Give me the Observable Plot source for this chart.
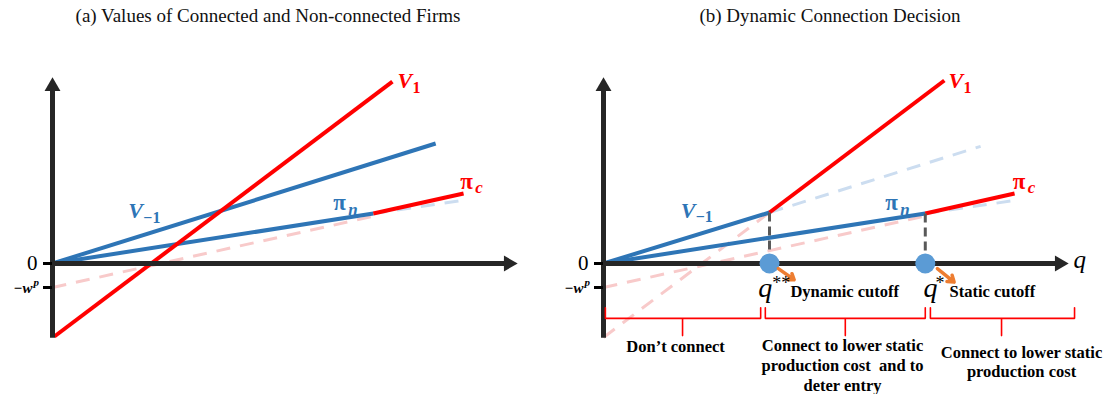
<!DOCTYPE html>
<html>
<head>
<meta charset="utf-8">
<script src="https://cdn.jsdelivr.net/npm/d3@7"></script>
<script src="https://cdn.jsdelivr.net/npm/@observablehq/plot@0.6"></script>
<style>
  body { margin: 0; background: #fff; }
  #wrap { position: relative; width: 1109px; height: 394px; overflow: hidden; background: #fff; }
  .title { position: absolute; top: 5px; text-align: center; font-family: "Liberation Serif", serif; font-size: 19px; color: #111; white-space: nowrap; }
  .panel { position: absolute; top: 0; }
</style>
</head>
<body>
<div id="wrap">
  <div class="title" style="left:0;width:536px">(a) Values of Connected and Non-connected Firms</div>
  <div class="title" style="left:551px;width:558px">(b) Dynamic Connection Decision</div>
  <div class="panel" id="pa" style="left:0"></div>
  <div class="panel" id="pb" style="left:551px"></div>
</div>
<script>
// ---------- data (q = size, v = value) ----------
const qMax = 100;            // end of the q axis
const vTop = 40;             // end of the value axis
const vBottom = -16.1;       // bottom of the value axis
const wp = 5.16;             // fixed cost w^p
const yTicks = [0, -wp];

// panel (a)
const aV1 = [{q: 0.4, v: -15.7}, {q: 73.1, v: 39.1}];
const aVm1 = [{q: 0, v: 0}, {q: 82.4, v: 25.8}];
const aPiN = [{q: 0, v: 0}, {q: 69.0, v: 10.75}];
const aPiC = [{q: 69.0, v: 10.75}, {q: 88.4, v: 15.05}];
const aPiCDash = [{q: 0, v: -wp}, {q: 69.0, v: 10.15}];
const aPiNDash = [{q: 69.0, v: 10.75}, {q: 88.4, v: 13.6}];
const aLabels = [
  {q: 74.2, v: 39.25, main: "V", sub: "1", series: "connected"},
  {q: 16.3, v: 11.3, main: "V", sub: "\u22121", series: "non"},
  {q: 60.4, v: 13.0, main: "\u03c0", sub: "n", series: "non"},
  {q: 87.7, v: 17.7, main: "\u03c0", sub: "c", series: "connected"}
];

// panel (b)
const bVm1 = [{q: 0, v: 0}, {q: 35.7, v: 10.97}];
const bV1 = [{q: 35.7, v: 10.97}, {q: 73.3, v: 39.35}];
const bPiN = [{q: 0, v: 0}, {q: 69.2, v: 10.75}];
const bPiC = [{q: 69.2, v: 10.75}, {q: 88.4, v: 15.05}];
const bVm1Dash = [{q: 35.7, v: 10.97}, {q: 81.1, v: 25.2}];
const bPiNDash = [{q: 69.2, v: 10.75}, {q: 88.4, v: 13.55}];
const bV1Dash = [{q: 0, v: -15.9}, {q: 35.7, v: 10.97}];
const bPiCDash = [{q: 0, v: -wp}, {q: 69.2, v: 10.2}];
const bLabels = [
  {q: 74.2, v: 39.25, main: "V", sub: "1", series: "connected"},
  {q: 16.6, v: 11.4, main: "V", sub: "\u22121", series: "non"},
  {q: 60.6, v: 13.0, main: "\u03c0", sub: "n", series: "non"},
  {q: 88.0, v: 17.7, main: "\u03c0", sub: "c", series: "connected"}
];
const cutoffs = [
  {q: 35.7, v: 10.97, stars: "**", note: "Dynamic cutoff"},
  {q: 69.2, v: 10.75, stars: "*", note: "Static cutoff"}
];
const cutoffGlyphQ = [33.3, 68.8];
const cutoffStarQ = [36.3, 71.4];
const cutoffNoteQ = [40.2, 74.4];
const pointers = [
  {q1: 37.6, v1: -1.1, q2: 41.0, v2: -3.5},
  {q1: 71.8, v1: -1.1, q2: 75.4, v2: -4.0}
];
const brackets = [
  {q1: 0.4, q2: 33.8, mid: 17.0, textQ: 15.5, textV: -16.05, text: "Don\u2019t connect"},
  {q1: 34.8, q2: 69.2, mid: 52.0, textQ: 51.4, textV: -15.9, text: "Connect to lower static\nproduction cost  and to\ndeter entry"},
  {q1: 70.3, q2: 101.3, mid: 85.6, textQ: 89.9, textV: -17.2, text: "Connect to lower static\nproduction cost"}
];

// ---------- styles ----------
const RED = "#FF0000", BLUE = "#2E75B6", AX = "#262626";
const PINK = "#F8CACA", LBLUE = "#CCDDF0";
const SERIF = "Liberation Serif, serif";
const colorOf = d => d.series === "connected" ? RED : BLUE;

function solid(data, stroke) {
  return Plot.line(data, {x: "q", y: "v", stroke, strokeWidth: 4, strokeLinecap: "butt"});
}
function dashed(data, stroke) {
  return Plot.line(data, {x: "q", y: "v", stroke, strokeWidth: 3, strokeDasharray: "14,10", strokeLinecap: "butt"});
}
function axes() {
  return [
    Plot.ruleX([0], {y1: vBottom, y2: vTop - 2, stroke: AX, strokeWidth: 5}),
    Plot.ruleY([0], {x1: 0, x2: qMax - 2, stroke: AX, strokeWidth: 5}),
    Plot.dot([{q: 0, v: vTop}], {x: "q", y: "v", symbol: "triangle", r: 5.9, fill: AX, stroke: "none", dy: 9}),
    Plot.dot([{q: qMax, v: 0}], {x: "q", y: "v", symbol: "triangle", r: 5.9, fill: AX, stroke: "none", rotate: 90, dx: -9}),
    Plot.axisY(yTicks, {anchor: "left", tickSize: 9, strokeWidth: 3, stroke: "#000", tickFormat: () => "", label: null}),
    Plot.text([0], {x: 0, y: d => d, text: () => "0", textAnchor: "end", dx: -15, fontSize: 21, fontFamily: SERIF, fill: "#000"}),
    Plot.text([-wp], {x: 0, y: d => d, text: () => "\u2212w", textAnchor: "end", dx: -20, dy: 1, fontSize: 15, fontWeight: "bold", fontStyle: "italic", fontFamily: SERIF, fill: "#000"}),
    Plot.text([-wp], {x: 0, y: d => d, text: () => "p", textAnchor: "start", dx: -19, dy: -5, fontSize: 11, fontWeight: "bold", fontStyle: "italic", fontFamily: SERIF, fill: "#000"})
  ];
}
function seriesLabels(labels) {
  const isV = d => d.main === "V";
  const digitSub = d => /\d/.test(d.sub);
  const common = {x: "q", y: "v", fill: colorOf, textAnchor: "start", fontWeight: "bold", fontFamily: SERIF};
  return [
    Plot.text(labels.filter(isV), {...common, text: "main", fontSize: 22, fontStyle: "italic"}),
    Plot.text(labels.filter(d => !isV(d)), {...common, text: "main", fontSize: 23}),
    Plot.text(labels.filter(digitSub), {...common, text: "sub", fontSize: 16, dx: 15, dy: 6.5}),
    Plot.text(labels.filter(d => !digitSub(d)), {...common, text: "sub", fontSize: 17, fontStyle: "italic", dx: 15, dy: 6.5})
  ];
}
function panel(width, marks) {
  return Plot.plot({
    width, height: 394,
    marginLeft: 52, marginTop: 0, marginBottom: 0, marginRight: 0,
    x: {domain: [0, qMax], range: [52, 517], axis: null},
    y: {domain: [-16, 40], range: [337.4, 77], axis: null, label: null},
    style: {background: "transparent", overflow: "visible"},
    marks
  });
}

// ---------- panel (a) ----------
const plotA = panel(551, [
  dashed(aPiCDash, PINK),
  dashed(aPiNDash, LBLUE),
  solid(aVm1, BLUE),
  solid(aPiN, BLUE),
  solid(aPiC, RED),
  solid(aV1, RED),
  ...axes(),
  ...seriesLabels(aLabels)
]);
document.getElementById("pa").append(plotA);

// ---------- panel (b) ----------
const bracketPts = brackets.flatMap((b, i) => [
  {i, q: b.q1, v: -9.5}, {i, q: b.q1, v: -11.8}, {i, q: b.mid, v: -11.8},
  {i, q: b.mid, v: -15.5}, {i, q: b.mid, v: -11.8}, {i, q: b.q2, v: -11.8}, {i, q: b.q2, v: -9.5}
]);
const plotB = panel(558, [
  dashed(bV1Dash, PINK),
  dashed(bPiCDash, PINK),
  dashed(bVm1Dash, LBLUE),
  dashed(bPiNDash, LBLUE),
  solid(bVm1, BLUE),
  solid(bPiN, BLUE),
  solid(bV1, RED),
  solid(bPiC, RED),
  Plot.link(cutoffs, {x1: "q", x2: "q", y1: "v", y2: () => 0, stroke: "#595959", strokeWidth: 3, strokeDasharray: "9,5"}),
  ...axes(),
  Plot.text(["q"], {x: qMax, y: 0, text: d => d, textAnchor: "start", dx: 5, dy: -4, fontSize: 25, fontStyle: "italic", fontFamily: SERIF, fill: "#000"}),
  Plot.dot(cutoffs, {x: "q", y: () => 0, r: 10, fill: "#5B9BD5", stroke: "none"}),
  Plot.arrow(pointers, {x1: "q1", y1: "v1", x2: "q2", y2: "v2", stroke: "#ED7D31", strokeWidth: 3.5, headLength: 9, headAngle: 70}),
  Plot.text(cutoffs, {x: (d, i) => cutoffGlyphQ[i], y: () => -5.25, text: () => "q", textAnchor: "start", fontSize: 28, fontStyle: "italic", fontFamily: SERIF, fill: "#000"}),
  Plot.text(cutoffs, {x: (d, i) => cutoffStarQ[i], y: () => -4.24, text: "stars", textAnchor: "start", fontSize: 18, fontFamily: SERIF, fill: "#000"}),
  Plot.text(cutoffs, {x: (d, i) => cutoffNoteQ[i], y: () => -6.1, text: "note", textAnchor: "start", fontSize: 16.5, fontWeight: "bold", fontFamily: SERIF, fill: "#000"}),
  Plot.line(bracketPts, {x: "q", y: "v", z: "i", stroke: RED, strokeWidth: 1.6}),
  Plot.text(brackets, {x: "textQ", y: "textV", text: "text", lineAnchor: "top", lineHeight: 1.2, fontSize: 16.5, fontWeight: "bold", fontFamily: SERIF, fill: "#000"}),
  ...seriesLabels(bLabels)
]);
document.getElementById("pb").append(plotB);
</script>
</body>
</html>
